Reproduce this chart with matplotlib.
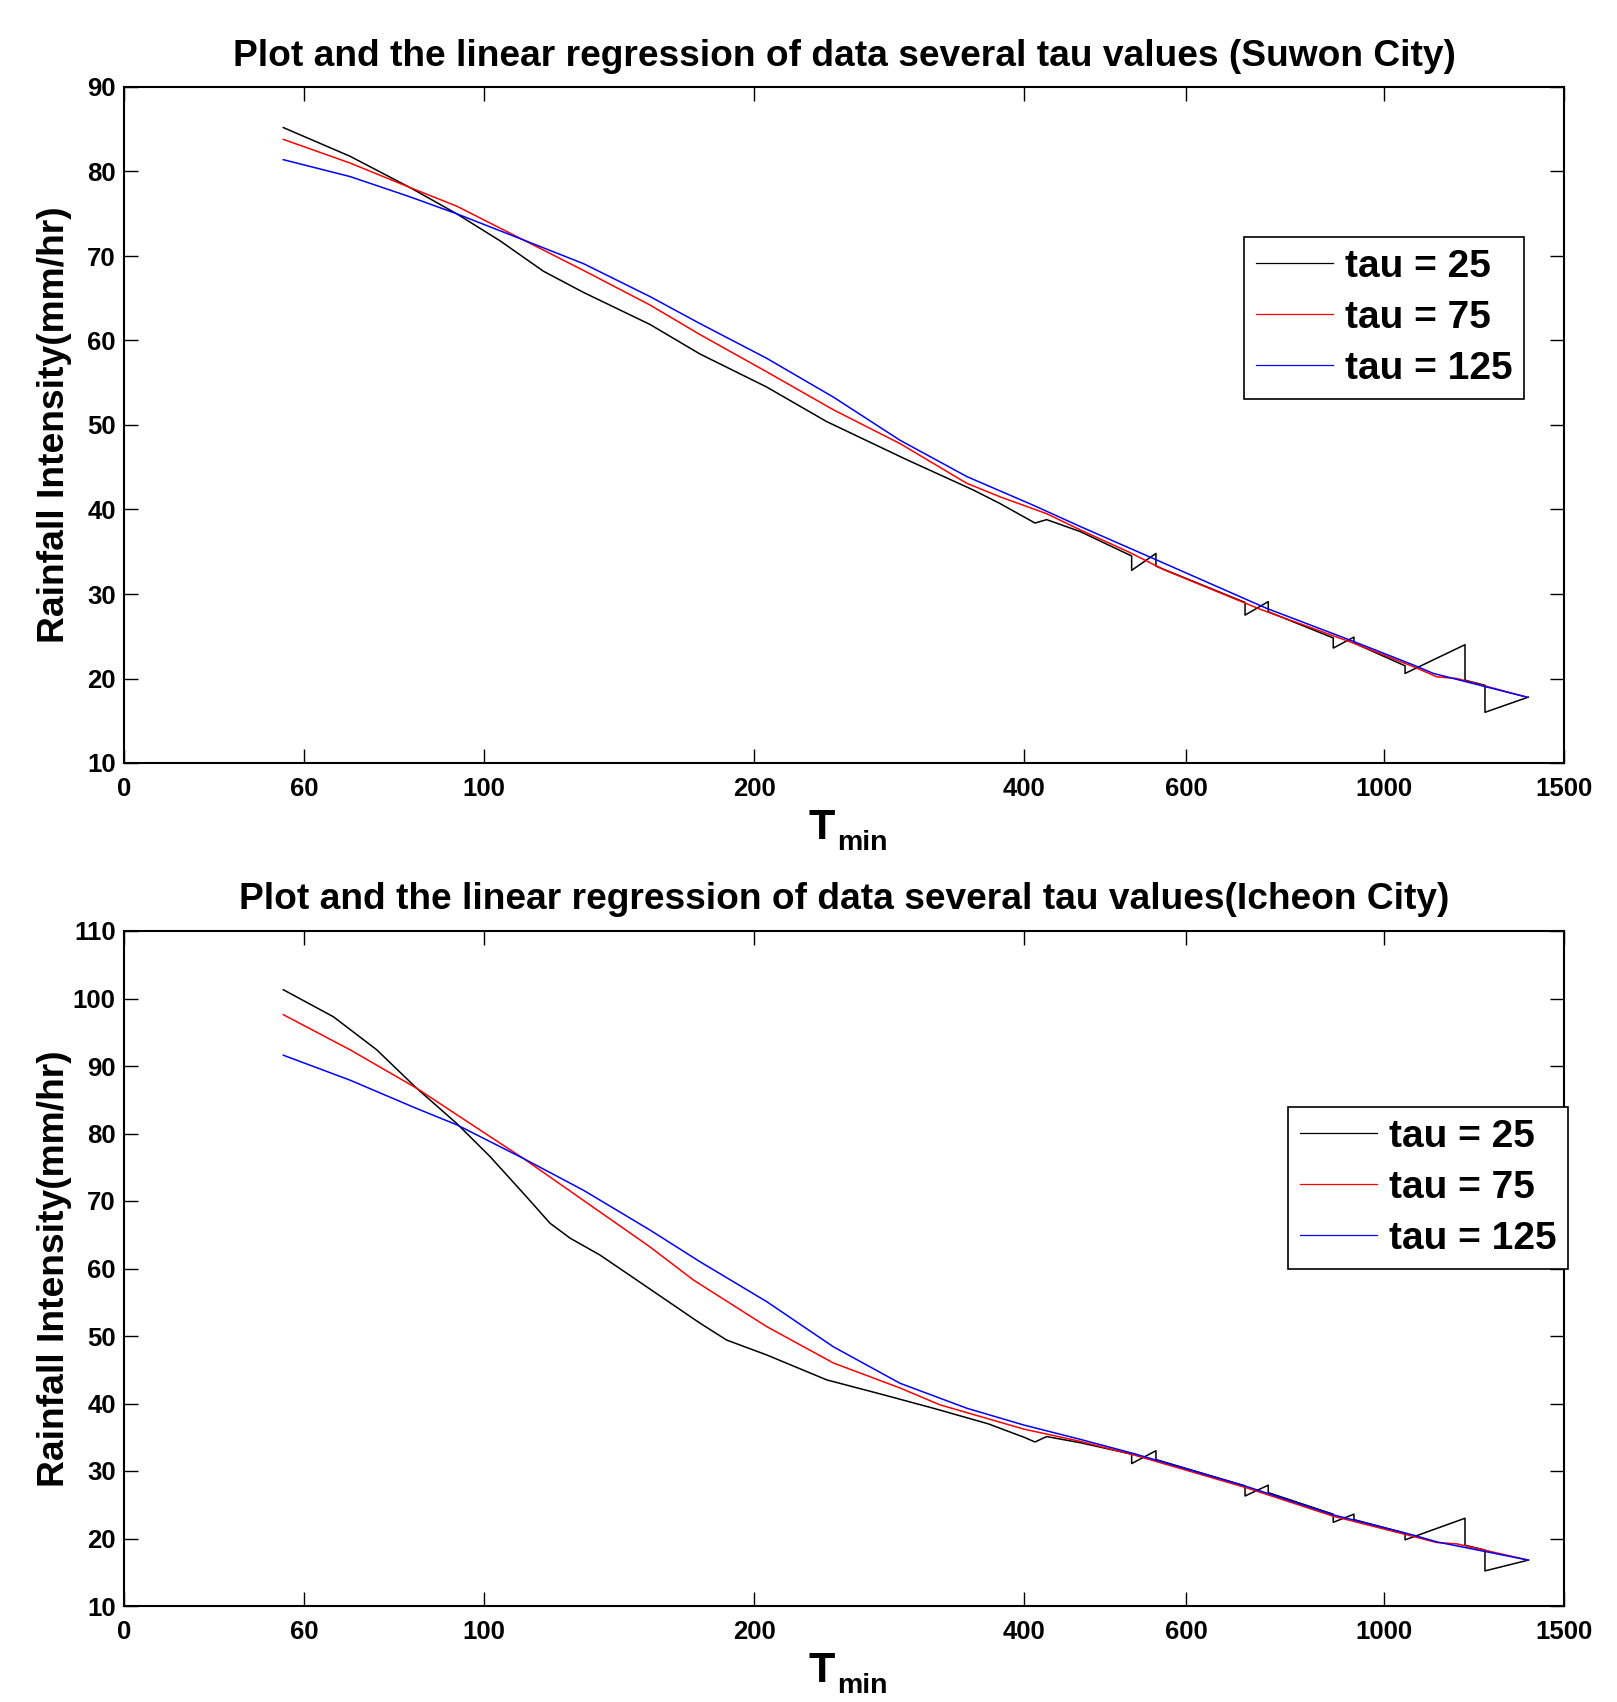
import matplotlib
matplotlib.use("Agg")
import matplotlib.pyplot as plt

plt.rcParams['font.family'] = ['Liberation Sans', 'DejaVu Sans']
plt.rcParams['font.weight'] = 'bold'

# ---------------- data ----------------
# x axis: tick positions (evenly spaced index units) and their labels (minutes)
xtick_pos = [0, 1, 2, 3.5, 5, 5.9, 7, 8]
xtick_labels = ['0', '60', '100', '200', '400', '600', '1000', '1500']
series_labels = ['tau = 25', 'tau = 75', 'tau = 125']
series_colors = ['black', 'red', 'blue']

# ---- Suwon City ----
suwon_x_25 = [0.885, 1.256, 1.589, 1.848, 2.089, 2.330, 2.552, 2.922, 3.2, 3.570, 3.904,
              4.348, 4.719, 4.867, 5.061, 5.126, 5.311, 5.598, 5.598, 5.733, 5.733,
              6.228, 6.228, 6.357, 6.357, 6.718, 6.718, 6.833, 6.833, 7.117, 7.117,
              7.450, 7.450, 7.561, 7.561, 7.802]
suwon_y_25 = [85.2, 81.8, 78.1, 75.0, 71.8, 68.2, 65.7, 61.9, 58.4, 54.5, 50.4,
              45.9, 42.3, 40.7, 38.4, 38.8, 37.4, 34.5, 32.8, 34.8, 33.3,
              29.0, 27.5, 29.1, 27.9, 24.8, 23.6, 24.9, 24.2, 21.5, 20.6,
              24.0, 19.8, 19.2, 16.0, 17.8]
suwon_x_75 = [0.885, 1.256, 1.589, 1.848, 2.219, 2.552, 2.922, 3.2, 3.570, 3.941, 4.311,
              4.682, 4.867, 5.126, 5.311, 5.589, 5.774, 6.311, 6.829, 7.163, 7.293,
              7.404, 7.793]
suwon_y_75 = [83.8, 81.0, 78.1, 75.9, 71.9, 68.3, 64.2, 60.7, 56.3, 51.8, 47.8,
              43.1, 41.5, 39.5, 37.6, 34.9, 32.9, 28.2, 24.2, 21.4, 20.2,
              20.0, 17.8]
suwon_x_125 = [0.885, 1.256, 1.589, 1.848, 2.219, 2.552, 2.922, 3.2, 3.570, 3.941, 4.311,
               4.682, 5.052, 5.311, 5.718, 6.348, 6.829, 7.163, 7.274, 7.793]
suwon_y_125 = [81.4, 79.4, 77.0, 75.0, 71.9, 69.1, 65.2, 62.0, 57.9, 53.3, 48.2,
               43.9, 40.5, 38.0, 34.2, 28.3, 24.4, 21.6, 20.6, 17.8]

# ---- Icheon City ----
icheon_x_25 = [0.885, 1.163, 1.404, 1.626, 1.848, 2.033, 2.237, 2.367, 2.478, 2.644, 2.848,
               3.2, 3.348, 3.570, 3.904, 4.218, 4.496, 4.8, 5.0, 5.061, 5.126, 5.311,
               5.598, 5.598, 5.733, 5.733, 6.228, 6.228, 6.357, 6.357, 6.718, 6.718,
               6.833, 6.833, 7.117, 7.117, 7.450, 7.450, 7.561, 7.561, 7.802]
icheon_y_25 = [101.3, 97.3, 92.4, 86.7, 81.5, 76.6, 70.6, 66.7, 64.5, 62.0, 58.3,
               51.9, 49.4, 47.2, 43.5, 41.3, 39.3, 37.0, 35.0, 34.3, 35.1, 34.2,
               32.5, 31.1, 33.0, 31.7, 27.8, 26.3, 27.9, 26.8, 23.6, 22.4,
               23.6, 22.8, 20.8, 19.8, 23.0, 19.0, 18.3, 15.2, 16.8]
icheon_x_75 = [0.885, 1.256, 1.626, 1.996, 2.219, 2.552, 2.922, 3.163, 3.570, 3.941, 4.311,
               4.533, 5.0, 5.311, 5.607, 6.237, 6.718, 7.163, 7.293, 7.404, 7.802]
icheon_y_75 = [97.6, 92.4, 86.7, 80.2, 76.3, 70.1, 63.2, 58.3, 51.4, 46.0, 42.3,
               39.8, 36.2, 34.4, 32.4, 27.5, 23.3, 20.3, 19.4, 19.2, 16.8]
icheon_x_125 = [0.885, 1.256, 1.626, 1.848, 2.219, 2.552, 2.922, 3.2, 3.570, 3.941, 4.311,
                4.682, 5.0, 5.311, 5.607, 6.237, 6.718, 7.163, 7.293, 7.802]
icheon_y_125 = [91.6, 87.9, 83.7, 81.3, 76.3, 71.6, 65.7, 61.0, 55.1, 48.4, 43.0,
                39.3, 36.8, 34.7, 32.6, 27.7, 23.5, 20.5, 19.5, 16.8]

panels = [
    dict(title='Plot and the linear regression of data several tau values (Suwon City)',
         xs=[suwon_x_25, suwon_x_75, suwon_x_125], ys=[suwon_y_25, suwon_y_75, suwon_y_125],
         ylim=(10, 90), yticks=list(range(10, 91, 10))),
    dict(title='Plot and the linear regression of data several tau values(Icheon City)',
         xs=[icheon_x_25, icheon_x_75, icheon_x_125], ys=[icheon_y_25, icheon_y_75, icheon_y_125],
         ylim=(10, 110), yticks=list(range(10, 111, 10))),
]

# ---------------- layout ----------------
W, H = 1617, 1702
fig = plt.figure(figsize=(W / 100, H / 100), dpi=100)

ax_rects = [(124, 87, 1564, 763), (124, 931, 1564, 1606)]   # pixel boxes (l, t, r, b)
legend_anchor = [(1244, 237), (1288, 1107)]
title_pad = [15, 16]

for p, (l, t, r, b), (lx, ly), tp in zip(panels, ax_rects, legend_anchor, title_pad):
    ax = fig.add_axes([l / W, 1 - b / H, (r - l) / W, (b - t) / H])
    for xs, ys, c, lab in zip(p['xs'], p['ys'], series_colors, series_labels):
        ax.plot(xs, ys, color=c, lw=1.1, label=lab)
    ax.set_xlim(0, 8)
    ax.set_ylim(*p['ylim'])
    ax.set_xticks(xtick_pos)
    ax.set_xticklabels(xtick_labels)
    ax.set_yticks(p['yticks'])
    ax.tick_params(direction='in', length=10, width=1.0, top=True, right=True,
                   labelsize=18.5, pad=10.3)
    ax.tick_params(axis='y', pad=6)
    for s in ax.spines.values():
        s.set_linewidth(1.5)
    ax.set_title(p['title'], fontsize=26.7, fontweight='bold', pad=tp)
    # x label: large "T" with subscript "min"
    ax.set_xlabel('T', fontsize=31, fontweight='bold')
    ax.xaxis.label.set_va('baseline')
    ax.xaxis.set_label_coords(0.4844, -0.1124)
    ax.text(0.4952, -0.129, 'min', transform=ax.transAxes, fontsize=20.5,
            fontweight='bold', ha='left', va='baseline')
    ax.set_ylabel('Rainfall Intensity(mm/hr)', fontsize=26.8, fontweight='bold')
    ax.yaxis.set_label_coords(-0.036, 0.5)
    leg = ax.legend(loc='upper left', bbox_to_anchor=(lx / W, 1 - ly / H),
                    bbox_transform=fig.transFigure, borderaxespad=0, fontsize=28,
                    handlelength=2.0, handletextpad=0.3, labelspacing=0.39,
                    borderpad=0.3, fancybox=False, framealpha=1, edgecolor='black')
    leg.get_frame().set_linewidth(1.2)
    for line in leg.get_lines():
        line.set_linewidth(0.9)

fig.savefig('out.png', dpi=100)
